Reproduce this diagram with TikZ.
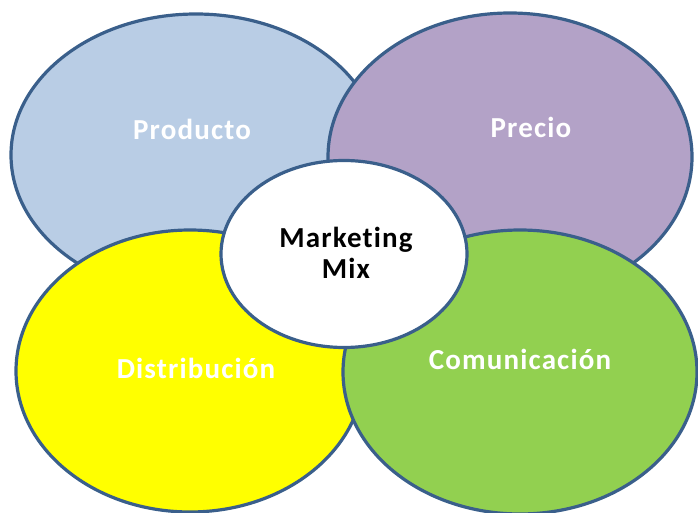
\documentclass[tikz,border=0pt]{standalone}
\usepackage{fontspec}
\setmainfont{Carlito}[Ligatures={NoCommon,NoRequired}, LetterSpace=4]
\usetikzlibrary{shapes.geometric}
\definecolor{rim}{HTML}{3A5F8B}
\definecolor{prodblue}{HTML}{B9CDE5}
\definecolor{preciopurple}{HTML}{B3A2C7}
\definecolor{distyellow}{HTML}{FFFF00}
\definecolor{comgreen}{HTML}{92D050}

\begin{document}
\begin{tikzpicture}[x=1pt, y=-1pt,
        every node/.style={inner sep=0pt, outer sep=0pt},
        part/.style={ellipse, draw=rim, line width=3.2pt},
        word/.style={font=\fontsize{29}{31}\selectfont\bfseries, text=white, anchor=base}
      ]
      \useasboundingbox (0,0) rectangle (698,513);
      \node[part, fill=prodblue, minimum width=370pt, minimum height=282pt] (producto) at (196,155) {};
      \node[part, fill=preciopurple, minimum width=364pt, minimum height=288pt] (precio) at (510,157) {};
      \node[part, fill=distyellow, minimum width=348pt, minimum height=282pt] (distribucion) at (190,371) {};
      \node[part, fill=comgreen, minimum width=354pt, minimum height=284pt] (comunicacion) at (520,372) {};
      \node[part, fill=white, minimum width=246pt, minimum height=187pt] (mix) at (344,254) {};
      % labels
      \node[word] (tproducto) at (192,140) {Producto};
      \node[word] (tprecio) at (531,138) {Precio};
      \node[word] (tdistribucion) at (196,378) {Distribución};
      \node[word] (tcomunicacion) at (520,369) {Comunicación};
      \node[word, text=black, anchor=center, align=center] (tmix) at (346,253) {Marketing\\Mix};
    \end{tikzpicture}
\end{document}
